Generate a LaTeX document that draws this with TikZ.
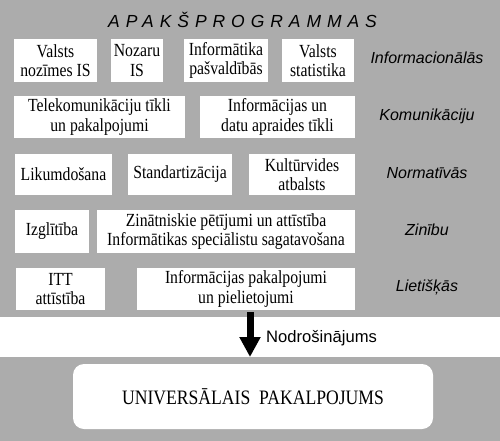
\documentclass[tikz,border=0pt]{standalone}
\usepackage{fontspec}
\usetikzlibrary{arrows.meta}
\newfontfamily\boxserif{Liberation Serif}[FakeStretch=0.85]
\newfontfamily\bigserif{Liberation Serif}[FakeStretch=0.86]
\newfontfamily\labsans{Liberation Sans}
\newfontfamily\titlesans{Liberation Sans}[LetterSpace=34]
\definecolor{bg}{RGB}{172,172,172}
\begin{document}
\begin{tikzpicture}[x=1pt,y=-1pt,
  stepbox/.style={fill=white,inner sep=0pt,align=center,
    font=\boxserif\fontsize{18.5}{19.5}\selectfont},
  rowlabel/.style={inner sep=0pt,font=\labsans\itshape\fontsize{16}{18}\selectfont},
  bigarrow/.style={line width=7pt,-{Triangle[width=20pt,length=20pt]}}
]
\useasboundingbox (0,0) rectangle (500,441);
\fill[bg] (0,0) rectangle (500,317);
\fill[white] (0,317) rectangle (500,357);
\fill[bg] (0,357) rectangle (500,441);

\node[inner sep=0pt,anchor=base west,font=\titlesans\itshape\fontsize{17.5}{19}\selectfont] (title) at (108,28) {APAKŠPROGRAMMAS};

% row 1
\node[stepbox,minimum width=83pt,minimum height=43pt] (vn) at (55.5,60.5) {Valsts\\nozīmes IS};
\node[stepbox,minimum width=52pt,minimum height=43pt] (nz) at (137,60.5) {Nozaru\\IS};
\node[stepbox,minimum width=84pt,minimum height=43pt] (ip) at (226,60.5) {Informātika\\pašvaldībās};
\node[stepbox,minimum width=72pt,minimum height=43pt] (vs) at (318,60.5) {Valsts\\statistika};
\node[rowlabel] (l1) at (427,58) {Informacionālās};
% row 2
\node[stepbox,minimum width=171pt,minimum height=42pt] (tk) at (99.5,117) {Telekomunikāciju tīkli\\un pakalpojumi};
\node[stepbox,minimum width=155pt,minimum height=42pt] (id) at (277.5,117) {Informācijas un\\datu apraides tīkli};
\node[rowlabel] (l2) at (427,116) {Komunikāciju};
% row 3
\node[stepbox,minimum width=97pt,minimum height=41pt] (lk) at (63.5,174.5) {Likumdošana};
\node[stepbox,minimum width=104pt,minimum height=41pt] (st) at (180,174.5) {Standartizācija};
\node[stepbox,minimum width=106pt,minimum height=41pt] (kv) at (302,174.5) {Kultūrvides\\atbalsts};
\node[rowlabel] (l3) at (427,173) {Normatīvās};
% row 4
\node[stepbox,minimum width=74pt,minimum height=43pt] (iz) at (52,231.5) {Izglītība};
\node[stepbox,minimum width=258pt,minimum height=43pt] (zp) at (226,231.5) {Zinātniskie pētījumi un attīstība\\Informātikas speciālistu sagatavošana};
\node[rowlabel] (l4) at (427,230) {Zinību};
% row 5
\node[stepbox,minimum width=89pt,minimum height=42pt] (itt) at (60.5,289) {ITT\\attīstība};
\node[stepbox,minimum width=218pt,minimum height=42pt] (ipp) at (246,289) {Informācijas pakalpojumi\\un pielietojumi};
\node[rowlabel] (l5) at (427,287) {Lietišķās};

% bottom
\node[fill=white,rounded corners=11pt,minimum width=360pt,minimum height=65pt,inner sep=0pt,
  font=\bigserif\fontsize{20.5}{22}\selectfont] (ub) at (253,396.5) {UNIVERSĀLAIS\ \ PAKALPOJUMS};

\coordinate (a1) at (250,312);
\coordinate (a2) at (250,357);
\draw[bigarrow] (a1) -- (a2);
\node[inner sep=0pt,anchor=west,font=\labsans\fontsize{16.6}{18}\selectfont] (nd) at (266,338) {Nodrošinājums};
\end{tikzpicture}
\end{document}
